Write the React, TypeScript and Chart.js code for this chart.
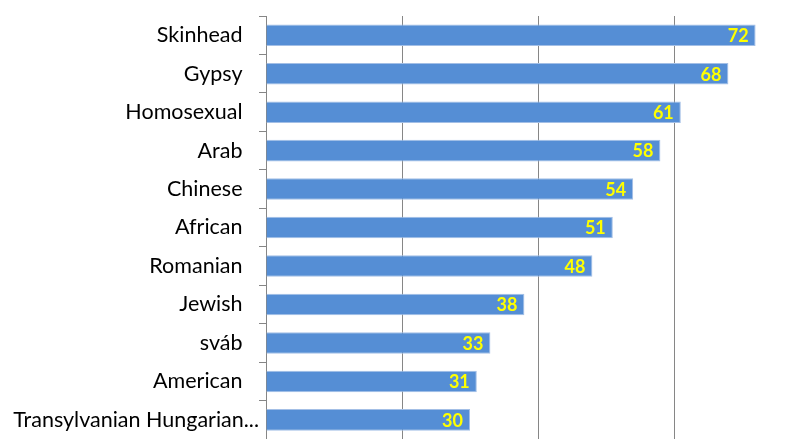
import React, { useEffect, useRef } from "react";
import { Chart, registerables } from "chart.js";

Chart.register(...registerables);

const categories = [
  "Skinhead",
  "Gypsy",
  "Homosexual",
  "Arab",
  "Chinese",
  "African",
  "Romanian",
  "Jewish",
  "sváb",
  "American",
  "Transylvanian Hungarian...",
];
const values = [72, 68, 61, 58, 54, 51, 48, 38, 33, 31, 30];
const xMin = 0;
const xMax = 80;
const xStep = 20;

const valueLabelPlugin = {
  id: "valueLabels",
  afterDatasetsDraw(chart: any) {
    const { ctx } = chart;
    const meta = chart.getDatasetMeta(0);
    ctx.save();
    ctx.font = "bold 18px Lato";
    ctx.fillStyle = "#FFFF00";
    ctx.textAlign = "right";
    ctx.textBaseline = "middle";
    meta.data.forEach((bar: any, i: number) => {
      ctx.fillText(String(values[i]), bar.x - 7, bar.y + 1);
    });
    ctx.restore();
  },
};

export default function App() {
  const ref = useRef<HTMLCanvasElement | null>(null);
  useEffect(() => {
    if (!ref.current) return;
    const chart = new Chart(ref.current, {
      type: "bar",
      data: {
        labels: categories,
        datasets: [
          {
            data: values,
            backgroundColor: "#558ED5",
            borderColor: "#A3BFE6",
            borderWidth: 1,
            categoryPercentage: 1,
            barPercentage: 0.56,
          },
        ],
      },
      options: {
        indexAxis: "y",
        responsive: false,
        animation: false,
        devicePixelRatio: 1,
        layout: { padding: { top: 16, left: 0, right: 0, bottom: 0 } },
        plugins: { legend: { display: false }, tooltip: { enabled: false } },
        scales: {
          x: {
            min: xMin,
            max: xMax,
            afterFit: (s: any) => {
              s.height = 0;
            },
            ticks: { display: false, stepSize: xStep },
            grid: { color: "#868686", lineWidth: 1, drawTicks: false },
            border: { display: false },
          },
          y: {
            afterFit: (s: any) => {
              s.width = 266;
            },
            ticks: {
              padding: 0,
              color: "#000000",
              font: { family: "Lato", size: 21.5 },
              callback: function (this: any, v: any, i: number) {
                const l = categories[i];
                return l.endsWith("...") ? l : l + "   ";
              },
            },
            grid: {
              drawOnChartArea: false,
              drawTicks: true,
              tickLength: 7,
              color: "#868686",
              offset: true,
            },
            border: { display: true, color: "#868686", width: 1 },
          },
        },
      },
      plugins: [valueLabelPlugin],
    } as any);
    return () => chart.destroy();
  }, []);
  return (
    <div
      style={{
        position: "fixed",
        left: 0,
        top: 0,
        width: 797,
        height: 439,
        overflow: "hidden",
        background: "#fff",
      }}
    >
      <canvas ref={ref} width={810} height={452} style={{ display: "block" }} />
    </div>
  );
}
